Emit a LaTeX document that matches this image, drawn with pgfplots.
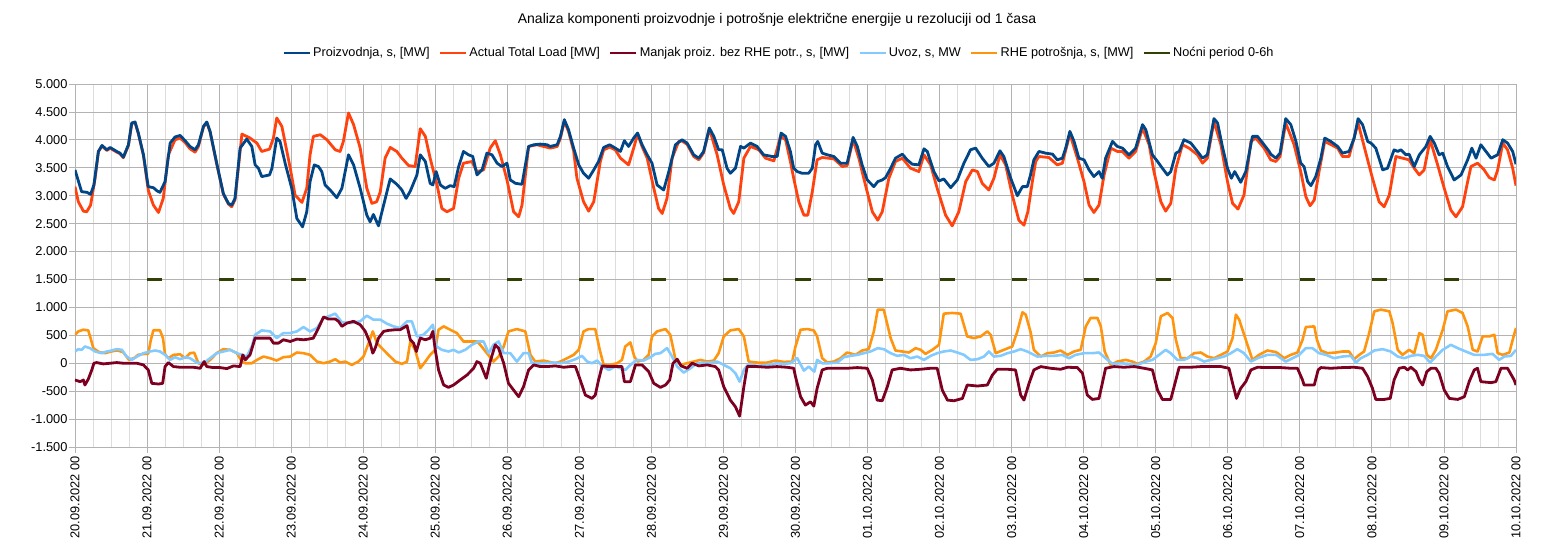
\documentclass[border=0pt]{standalone}
\usepackage{fontspec}
\setmainfont{Liberation Sans}
\usepackage{pgfplots}
\pgfplotsset{compat=1.18}
\definecolor{cprod}{HTML}{004586}
\definecolor{cload}{HTML}{FF420E}
\definecolor{cman}{HTML}{7E0021}
\definecolor{cuvoz}{HTML}{83CAFF}
\definecolor{crhe}{HTML}{FF950E}
\definecolor{cnoc}{HTML}{314004}
\definecolor{gmaj}{HTML}{B3B3B3}
\definecolor{gmin}{HTML}{DDDDDD}
\begin{document}
\begin{tikzpicture}
\useasboundingbox (-75pt,-105pt) rectangle (1479pt,447pt);
\begin{axis}[
  at={(0pt,0pt)}, anchor=south west,
  scale only axis, width=1441pt, height=363pt,
  xmin=0, xmax=480, ymin=-1500, ymax=5000,
  xtick={0,24,...,480},
  xticklabels={20.09.2022 00,21.09.2022 00,22.09.2022 00,23.09.2022 00,24.09.2022 00,25.09.2022 00,26.09.2022 00,27.09.2022 00,28.09.2022 00,29.09.2022 00,30.09.2022 00,01.10.2022 00,02.10.2022 00,03.10.2022 00,04.10.2022 00,05.10.2022 00,06.10.2022 00,07.10.2022 00,08.10.2022 00,09.10.2022 00,10.10.2022 00},
  minor x tick num=3,
  ytick={-1500,-1000,...,5000},
  yticklabels={-1.500,-1.000,-500,0,500,1.000,1.500,2.000,2.500,3.000,3.500,4.000,4.500,5.000},
  grid=both,
  major grid style={gmaj, line width=0.8pt},
  minor grid style={gmin, line width=0.8pt},
  axis line style={gmaj, line width=0.8pt},
  tick style={gmaj, line width=0.8pt},
  major tick length=6pt, minor tick length=0pt,
  tick align=outside, tick pos=left,
  tick label style={font=\fontsize{12.8}{15}\selectfont, black},
  yticklabel style={xshift=2pt},
  xticklabel style={rotate=90, anchor=east},
  legend columns=6,
  legend style={at={(0.4885,1.0854)}, anchor=center, draw=none, fill=none,
    font=\fontsize{12.7}{15}\selectfont, inner sep=0pt,
    /tikz/every even column/.append style={column sep=7pt}},
  legend image code/.code={\draw[#1] (0pt,0pt) -- (26pt,0pt);},
  every axis plot/.append style={mark=none, line join=round},
]
\addlegendimage{cprod, line width=2.8pt}\addlegendentry{Proizvodnja, s, [MW]}
\addlegendimage{cload, line width=2.8pt}\addlegendentry{Actual Total Load [MW]}
\addlegendimage{cman, line width=2.8pt}\addlegendentry{Manjak proiz. bez RHE potr., s, [MW]}
\addlegendimage{cuvoz, line width=2.8pt}\addlegendentry{Uvoz, s, MW}
\addlegendimage{crhe, line width=2.8pt}\addlegendentry{RHE potrošnja, s, [MW]}
\addlegendimage{cnoc, line width=2.8pt}\addlegendentry{Noćni period 0-6h}

% RHE potrosnja
\addplot[crhe, line width=2.6pt, forget plot] coordinates {
(0,510)(1.1,570)(2.8,600)(4.4,588)(5.2,450)(6.1,270)(8,200)(10,180)(12,210)(14,230)(16,200)(18,60)(20,100)(21,150)(22.8,165)(24.4,170)(25.2,400)(26.1,590)(28.3,590)(29.3,450)(30,160)(31.1,90)(32.8,150)(35,160)(36.7,90)(38.3,180)(39.7,190)(41.1,0)(42.8,-30)(45,60)(47.2,180)(49.4,252)(51.7,240)(53.9,180)(55.6,30)(56.7,0)(58.9,0)(60.6,60)(62.8,120)(65,90)(67.2,48)(69.4,108)(71.7,120)(73.9,192)(76.1,180)(78.3,150)(80.6,30)(82.8,0)(85,30)(86.7,72)(88.3,12)(90,30)(92.2,-30)(94.4,30)(96.1,120)(97.8,360)(99.2,570)(100.6,360)(102.2,270)(104.4,150)(106.7,30)(108.9,-12)(110.6,30)(111.7,390)(113.3,240)(115,-90)(116.7,30)(118.3,150)(120,240)(121.1,600)(122.8,660)(125,600)(127.2,540)(129.4,390)(131.7,390)(133.9,390)(135,330)(137.2,180)(139.4,30)(141.1,120)(142.8,300)(144.4,570)(147.2,612)(150,570)(151.7,150)(153.3,30)(156.1,48)(160,0)(161.7,30)(163.9,90)(166.1,150)(167.8,240)(169.4,570)(171.1,612)(173.3,612)(174.8,240)(176.1,-30)(178.3,-30)(180.6,0)(182.2,60)(183.3,300)(185,372)(186.3,120)(187.4,30)(189.4,60)(191.1,150)(192.2,480)(193.9,570)(196.7,612)(198.3,510)(200,72)(201.7,-30)(203.9,0)(206.1,30)(208.3,60)(210.6,30)(212.8,48)(214.4,180)(216.1,480)(218.3,588)(221.1,612)(222.8,480)(224.4,30)(227.2,12)(230.6,12)(233.3,48)(236.1,24)(238.9,30)(240,300)(241.7,600)(243.9,612)(246.1,588)(247.2,480)(248.9,90)(250.6,12)(252.8,30)(255,90)(257.2,192)(260,150)(262.2,228)(264.4,252)(266.1,570)(267.4,960)(269.4,960)(271.7,450)(273.3,228)(275.6,210)(277.8,192)(280,270)(281.7,240)(283.3,168)(285.6,240)(287.8,330)(289.4,888)(292.2,900)(295,888)(297.2,480)(299.4,450)(301.7,480)(303.9,570)(305,510)(306.7,180)(309.4,240)(312.2,300)(313.9,570)(315.6,912)(316.7,870)(318.3,560)(319.4,240)(321.7,120)(323.9,180)(326.1,192)(328.3,228)(330.6,150)(332.8,210)(335,240)(336.7,660)(338.3,810)(340.6,810)(341.7,660)(343,210)(345,-30)(347.2,30)(350,60)(352.2,30)(353.9,-12)(356.1,30)(358.3,120)(360,360)(361.7,840)(363.9,900)(365.6,810)(366.7,420)(368.3,90)(370.6,90)(372.8,180)(375,192)(377.2,120)(379.4,90)(381.7,150)(383.9,210)(385.6,450)(386.7,870)(387.8,780)(390,420)(392.2,60)(394.4,150)(397.2,228)(400,200)(400.6,180)(402.8,90)(405,150)(407.2,192)(408.9,420)(410,648)(412.8,660)(413.7,420)(415,228)(417.2,180)(420,192)(422.2,210)(424.4,210)(426.1,72)(427.8,150)(429.4,210)(431.1,540)(432.8,930)(435,960)(437.8,930)(438.9,720)(440.6,240)(442.2,150)(444.4,240)(446.1,180)(447.8,540)(448.9,510)(450.3,150)(451.7,90)(453.3,240)(455.6,600)(457.2,930)(460,960)(462.2,900)(463.9,660)(465.6,240)(467.2,210)(468.9,480)(471.1,480)(472.8,510)(473.9,180)(475.6,150)(477.8,192)(479.2,480)(480,630)
};
% Uvoz
\addplot[cuvoz, line width=2.6pt, forget plot] coordinates {
(0,210)(1.1,252)(2.2,240)(3.3,300)(5,270)(6.7,210)(8.9,180)(10.6,210)(12.2,228)(13.9,252)(15.6,240)(17.2,120)(18.9,60)(20.6,120)(22.8,180)(25,210)(26.7,228)(28.3,210)(30,150)(31.7,60)(33.3,108)(35,72)(36.7,108)(38.3,90)(40.6,12)(42.8,0)(45,90)(47.2,180)(49.4,210)(51.7,240)(53.9,180)(55.6,150)(57.2,120)(58.9,300)(60,510)(62.2,588)(65,570)(67.2,450)(69.4,540)(71.7,540)(73.9,570)(76.1,648)(78.3,570)(80.6,630)(82.8,810)(84.4,840)(86.7,888)(88.9,732)(91.7,720)(95,750)(97.2,852)(99.4,780)(101.7,780)(103.9,708)(106.1,660)(108.3,630)(110.6,750)(112.2,750)(113.9,480)(116.1,510)(117.8,600)(119.2,690)(120.4,300)(122.2,240)(124.4,210)(126.1,240)(127.8,192)(130,240)(132.2,330)(134.4,390)(136.1,390)(137.8,180)(139.4,330)(141.1,390)(142.8,180)(145,180)(147.2,30)(149.4,180)(151.1,180)(152.2,0)(155,0)(160,12)(161.7,0)(164.4,30)(166.7,72)(168.9,132)(170.6,30)(172.2,0)(173.9,48)(175.6,-48)(177.8,-120)(180,-60)(181.7,-90)(183.3,-120)(185,-30)(187.2,60)(189.4,48)(191.7,108)(193.3,168)(195,180)(197.2,270)(198.6,150)(200.6,-60)(202.8,-168)(205,-90)(207.2,0)(209.4,12)(211.7,12)(213.9,30)(216.1,-30)(218.3,-90)(220,-180)(221.4,-330)(222.8,-120)(224.4,-12)(227.2,-48)(230.6,-30)(233.9,0)(236.1,-12)(238.3,0)(240.6,90)(242.8,-132)(244.4,-60)(245.6,-120)(246.3,-150)(247.2,60)(248.9,0)(251.1,0)(253.9,12)(256.1,108)(258.3,132)(260.6,150)(262.8,180)(265,210)(267.4,270)(269.4,252)(271.7,180)(273.9,132)(276.1,150)(278.3,90)(280.6,120)(282.8,60)(285,132)(287.2,180)(289.4,210)(291.7,228)(293.9,192)(296.1,150)(298.3,60)(300.6,72)(302.8,120)(304.4,210)(306.1,120)(308.3,132)(310.6,180)(312.8,210)(315,252)(317.2,210)(318.3,180)(320.6,120)(323.3,132)(326.1,132)(328.9,150)(331.1,90)(333.3,150)(336.1,180)(338.9,180)(341.1,192)(343.3,90)(345.6,-12)(348.3,0)(351.1,-12)(353.9,-30)(356.7,30)(358.9,60)(361.1,150)(363.3,240)(365,180)(367.2,60)(369.4,60)(371.7,120)(373.9,90)(376.1,30)(378.3,60)(380.6,90)(382.8,120)(385,180)(387.2,252)(389.4,180)(391.7,30)(393.9,90)(397.2,150)(400,150)(400.6,132)(403.3,30)(405.6,90)(407.8,150)(410,270)(412.2,270)(414.4,180)(416.7,150)(419.4,90)(422.2,120)(425,132)(426.7,12)(428.3,90)(430.6,150)(432.8,228)(435.6,252)(438.3,210)(440.6,120)(442.8,90)(445,132)(447.2,150)(449.4,132)(451.4,12)(453.3,120)(455.6,240)(458.3,330)(460.6,270)(463.3,210)(466.1,150)(469.4,150)(472.2,168)(474.4,60)(476.1,120)(478.3,132)(480,240)
};
% Manjak
\addplot[cman, line width=2.8pt, forget plot] coordinates {
(0,-300)(1.7,-330)(2.8,-300)(3.3,-390)(4.4,-288)(5.6,-120)(6.3,0)(7.2,12)(9.4,-12)(11.7,0)(13.9,12)(16.1,0)(18.3,0)(20.6,0)(22.8,-30)(24.4,-120)(25.6,-360)(27.8,-372)(29.2,-360)(30,-60)(31.1,12)(32.8,-60)(35,-72)(37.2,-72)(39.4,-72)(41.7,-90)(43,30)(43.9,-60)(46.1,-78)(48.3,-78)(50.6,-96)(52.8,-48)(55,-60)(55.9,150)(56.7,60)(58.3,150)(60,450)(62.2,450)(65,450)(66.1,360)(67.8,360)(69.4,420)(71.7,390)(73.9,432)(76.1,420)(77.8,432)(79.4,450)(81.1,630)(82.8,828)(84.4,792)(86.7,792)(87.8,750)(88.9,660)(90.6,720)(92.8,750)(95,690)(96.7,570)(98.3,360)(99.2,180)(100,270)(101.1,450)(102.8,570)(104.4,588)(106.7,600)(108.3,600)(110.6,672)(111.7,420)(112.8,360)(113.7,210)(115,450)(116.7,420)(118.3,450)(119.2,570)(120,240)(121.1,-120)(122.8,-390)(124.4,-432)(126.1,-390)(128.3,-300)(130.6,-210)(132.8,-90)(133.9,30)(135,0)(137,-270)(138.3,30)(140,330)(141.1,270)(142.8,0)(144.4,-360)(146.1,-480)(147.8,-600)(149.4,-420)(151.1,-120)(152.8,-30)(155,-60)(157.2,-60)(160,-48)(162.8,-72)(165,-60)(166.7,-60)(168.3,-300)(170,-570)(172.2,-630)(173.3,-570)(174.4,-300)(175.6,-48)(177.8,-60)(180.6,-60)(182.2,-60)(183,-330)(185,-330)(186.7,-30)(188.9,-30)(191.1,-150)(192.8,-360)(195,-432)(196.7,-390)(198.1,-300)(199.2,0)(200.6,72)(201.9,-48)(203.9,-90)(205.6,0)(207.8,-48)(210.6,-30)(213.3,-60)(214.4,-120)(216.1,-420)(218.3,-660)(220,-780)(221.4,-948)(222.8,-420)(223.9,-60)(227.2,-60)(230.6,-72)(233.9,-60)(237.2,-72)(239.4,-90)(240,-240)(241.7,-600)(243.3,-750)(245,-690)(246.1,-768)(247.2,-450)(248.9,-120)(250.6,-90)(253.9,-90)(257.2,-90)(260.6,-78)(263.9,-90)(265.6,-300)(267.2,-660)(268.9,-672)(270.6,-420)(272.2,-120)(275,-90)(278.3,-120)(281.7,-108)(285,-90)(287.2,-90)(288.9,-480)(290.6,-660)(292.8,-672)(295.6,-630)(297.2,-390)(300.6,-408)(303.9,-390)(305.6,-210)(307.2,-108)(310.6,-108)(313.3,-120)(315,-570)(316.1,-660)(317.8,-360)(319.4,-120)(321.7,-60)(325,-90)(328.3,-108)(330.6,-72)(333.9,-78)(335.6,-180)(337.2,-570)(338.9,-648)(341.1,-630)(342.2,-360)(343.3,-90)(346.1,-60)(349.4,-72)(352.8,-60)(356.1,-90)(358.9,-120)(360.6,-480)(362.2,-648)(365,-648)(366.7,-300)(367.8,-72)(371.7,-72)(375,-60)(378.3,-60)(381.7,-60)(384.4,-90)(385.6,-360)(386.9,-630)(388.3,-450)(390,-330)(391.7,-120)(393.9,-72)(397.2,-78)(401.7,-78)(405,-90)(407.2,-90)(408.9,-300)(409.4,-390)(412.8,-390)(414.1,-120)(415,-78)(418.3,-90)(422.2,-78)(426.1,-72)(428.9,-90)(430.6,-240)(432.2,-450)(433.3,-648)(436.1,-648)(438.1,-630)(439.4,-300)(441.1,-90)(442.8,-72)(443.9,-120)(445,-72)(446.7,-150)(447.8,-300)(448.9,-390)(450.3,-150)(451.7,-90)(453.3,-90)(454.4,-180)(456.1,-480)(457.8,-630)(460.6,-648)(462.8,-600)(464.4,-330)(466.1,-120)(467.2,-90)(468.3,-330)(471.7,-348)(473.3,-330)(475,-90)(477.2,-90)(479.4,-300)(480,-390)
};
% Nocni period
\addplot[cnoc, line width=3pt, forget plot, unbounded coords=jump] coordinates {
(24,1500)(29,1500)(30,nan)(48,1500)(53,1500)(54,nan)(72,1500)(77,1500)(78,nan)(96,1500)(101,1500)(102,nan)(120,1500)(125,1500)(126,nan)(144,1500)(149,1500)(150,nan)(168,1500)(173,1500)(174,nan)(192,1500)(197,1500)(198,nan)(216,1500)(221,1500)(222,nan)(240,1500)(245,1500)(246,nan)(264,1500)(269,1500)(270,nan)(288,1500)(293,1500)(294,nan)(312,1500)(317,1500)(318,nan)(336,1500)(341,1500)(342,nan)(360,1500)(365,1500)(366,nan)(384,1500)(389,1500)(390,nan)(408,1500)(413,1500)(414,nan)(432,1500)(437,1500)(438,nan)(456,1500)(461,1500)
};
% Actual Total Load
\addplot[cload, line width=2.8pt, forget plot] coordinates {
(0,3162)(1.1,2892)(2.8,2724)(3.9,2712)(5.2,2832)(6.7,3312)(7.8,3792)(9,3890)(10.6,3810)(11.7,3850)(13.9,3780)(15,3750)(16.1,3680)(17.8,3900)(18.9,4290)(20,4310)(21.1,4110)(22.8,3720)(24.4,3100)(26.1,2832)(27.8,2700)(29.4,2952)(31.1,3732)(33.3,4000)(35,4032)(36.7,3950)(38.3,3840)(40,3780)(41.1,3880)(42.8,4230)(43.9,4310)(45,4140)(47.2,3570)(49.4,3030)(51.1,2850)(52.2,2802)(53.3,2930)(55.6,4104)(58.3,4032)(60.6,3942)(62.2,3792)(64.8,3834)(66.1,4032)(67.2,4392)(68.9,4242)(71.7,3492)(73.3,3012)(75.6,2880)(77.2,3132)(78.3,3732)(79.4,4062)(81.7,4092)(83.9,4002)(86.7,3822)(88.3,3792)(89.4,3972)(91.1,4482)(92.8,4272)(95,3852)(97.2,3132)(98.9,2862)(100.5,2892)(101.7,3072)(103.3,3672)(105,3864)(107.2,3792)(108.9,3672)(111.1,3540)(113.3,3522)(115,4200)(116.7,4062)(118.3,3672)(120.6,3192)(122.2,2772)(123.9,2712)(126.1,2772)(127.8,3312)(129.4,3582)(132.2,3612)(133.9,3432)(136.1,3462)(138.3,3852)(140,3984)(141.7,3732)(143.9,3282)(146.1,2712)(147.8,2622)(148.9,2832)(151.1,3882)(153.9,3912)(156.1,3882)(158.3,3852)(160.6,3880)(161.7,4030)(163,4330)(164.4,4150)(166.1,3800)(167.2,3312)(169.4,2892)(171.1,2724)(172.8,2892)(175,3612)(176.1,3820)(178.1,3870)(180,3820)(181.7,3672)(184.4,3552)(186.1,3852)(187.4,4104)(188.9,3880)(190.6,3672)(192.8,3132)(194.4,2772)(195.6,2682)(197.2,2952)(198.9,3672)(201.1,3972)(202.2,3980)(203.9,3920)(206.1,3702)(207.8,3642)(209.4,3770)(211.3,4200)(213.9,3732)(216.1,3192)(218.3,2772)(219.4,2682)(221.1,2892)(222.8,3672)(225,3882)(227.8,3822)(230,3672)(232.8,3624)(235,4062)(236.7,4002)(238.3,3612)(239.4,3312)(241.1,2892)(242.8,2652)(244.1,2652)(245.6,3072)(247.2,3642)(248.9,3684)(252.8,3660)(255.6,3522)(257.2,3540)(259.2,4002)(261.1,3672)(263.3,3192)(265.6,2712)(267.4,2562)(268.9,2712)(271.1,3312)(273.3,3612)(275.6,3672)(278.3,3492)(281.1,3432)(282.8,3732)(285,3552)(287.2,3132)(290,2652)(292.2,2460)(294.4,2712)(296.7,3252)(298.9,3462)(300.6,3432)(302.2,3222)(304.4,3102)(306.1,3312)(308.1,3732)(310,3552)(312.2,3012)(314.4,2562)(316.1,2472)(317.4,2712)(318.9,3252)(320,3612)(321.1,3702)(324.4,3684)(327.2,3552)(328.9,3582)(331.4,4104)(333.9,3672)(336.1,3252)(337.8,2832)(339.4,2700)(341.1,2832)(342.8,3372)(345,3852)(347.2,3792)(348.9,3792)(351.1,3672)(353.3,3792)(355.6,4212)(357.8,3912)(359.4,3432)(361.7,2892)(363.3,2724)(365,2862)(366.7,3492)(368.9,3912)(371.1,3852)(373.9,3732)(375.6,3582)(377.2,3672)(379.4,4332)(381.7,3912)(383.9,3252)(385.6,2862)(387.4,2760)(389.4,3012)(391.7,3972)(393.3,4032)(396.1,3852)(398.3,3642)(400,3612)(401.4,3702)(403.3,4302)(406.1,3912)(408.3,3432)(410,2982)(411.4,2820)(412.8,2922)(414.4,3432)(416.3,3972)(420.6,3852)(422.2,3702)(424.4,3702)(427.4,4302)(430,3762)(432.2,3312)(434.4,2892)(436.1,2802)(437.8,3012)(440,3702)(442.2,3672)(444.4,3642)(446.1,3492)(447.8,3372)(449.4,3462)(451.4,4002)(453.9,3552)(456.1,3132)(458.3,2742)(460,2622)(462.2,2802)(463.9,3252)(465,3522)(467.2,3582)(469.4,3462)(471.1,3324)(472.8,3282)(473.9,3462)(475.6,3942)(477.2,3822)(478.9,3492)(480,3180)
};
% Proizvodnja
\addplot[cprod, line width=2.8pt, forget plot] coordinates {
(0,3462)(2.2,3072)(4,3060)(5.2,3024)(6.3,3192)(7.8,3792)(9,3900)(10.6,3822)(11.7,3864)(13.9,3792)(15,3762)(16.1,3690)(17.8,3912)(18.9,4302)(20,4320)(21.1,4122)(22.8,3732)(24.4,3162)(26.1,3144)(27.4,3084)(28.3,3060)(30,3252)(31.7,3942)(33.3,4050)(35,4080)(36.7,3984)(38.3,3882)(40,3822)(41.1,3912)(42.8,4242)(43.9,4320)(45,4152)(47.2,3582)(49.4,3042)(51.1,2862)(52.2,2832)(53.3,2952)(55,3852)(57.2,4014)(58.9,3882)(60,3552)(61.1,3492)(62.2,3342)(64.8,3372)(65.6,3492)(67.2,4032)(68.3,3972)(70,3582)(72.2,3132)(73.9,2592)(75.8,2442)(77.2,2712)(78.3,3252)(79.7,3552)(81.1,3522)(82.2,3432)(83.3,3192)(85,3102)(87.2,2964)(88.9,3132)(91.1,3732)(92.8,3552)(95,3132)(97.2,2652)(98.3,2532)(99.4,2664)(101.1,2460)(102.8,2832)(105,3300)(107.2,3204)(108.9,3102)(110.3,2952)(111.7,3084)(113.9,3372)(115,3732)(116.7,3612)(118.3,3222)(119.2,3192)(120.3,3432)(121.7,3192)(123.3,3132)(125,3180)(126.3,3162)(127.8,3522)(129.4,3792)(131.1,3732)(132.5,3702)(133.9,3372)(135.6,3462)(137.2,3762)(138.9,3732)(140.6,3582)(142.2,3522)(143.9,3582)(145,3282)(146.7,3222)(148.9,3204)(151.1,3882)(152.8,3912)(155,3924)(157.2,3912)(158.3,3882)(160.6,3912)(161.7,4062)(163,4362)(164.4,4182)(166.1,3852)(167.8,3552)(169.4,3402)(171.1,3312)(172.8,3462)(174.4,3612)(176.1,3864)(178.1,3912)(180,3852)(181.7,3792)(183,3984)(184.4,3882)(186.1,4032)(187.4,4122)(188.9,3912)(190.6,3732)(192.2,3582)(193.9,3192)(196.1,3102)(197.8,3432)(200,3912)(202.2,4002)(203.9,3942)(206.1,3732)(207.8,3672)(209.4,3792)(211.3,4212)(212.8,4062)(214.4,3822)(215.6,3822)(217.2,3492)(218.3,3402)(220,3492)(221.7,3882)(222.8,3852)(225,3942)(227.2,3882)(229.4,3732)(232.2,3702)(233.9,3702)(235.2,4122)(236.7,4062)(238.3,3792)(239.4,3492)(240.6,3432)(242.2,3402)(244.4,3402)(245.6,3492)(246.7,3912)(247.4,3972)(248.9,3762)(250.6,3732)(252.8,3702)(255,3582)(257.2,3582)(259.2,4044)(260.6,3882)(262.2,3552)(263.9,3282)(266.1,3162)(267.4,3252)(268.9,3282)(270,3324)(271.7,3492)(273.3,3672)(275.6,3744)(277.2,3642)(278.9,3564)(281.1,3552)(282.8,3840)(283.9,3792)(286.1,3432)(287.8,3264)(289.4,3300)(291.7,3144)(293.9,3282)(296.1,3582)(298.3,3822)(300,3852)(302.2,3672)(304.4,3522)(306.1,3582)(308.1,3804)(309.4,3702)(311.7,3312)(313.9,3000)(315.6,3162)(317.2,3162)(318.3,3372)(319.4,3642)(321.1,3792)(323.3,3762)(325.6,3744)(327.2,3642)(328.9,3672)(330,3852)(331.4,4152)(332.8,3972)(334.4,3672)(336.1,3642)(337.8,3462)(339.4,3342)(341.1,3432)(342.2,3312)(343.3,3672)(345.6,3972)(347.2,3882)(348.9,3852)(351.1,3732)(353.3,3852)(355.6,4272)(356.7,4182)(358.9,3732)(360.6,3612)(362.2,3492)(363.9,3372)(365,3432)(366.7,3762)(367.8,3792)(369.4,4002)(371.7,3942)(373.9,3792)(375.6,3672)(377.2,3732)(379.4,4380)(380.6,4302)(382.2,3882)(383.9,3492)(385.2,3312)(386.3,3432)(388.3,3240)(390,3432)(392.2,4062)(393.9,4062)(396.1,3912)(397.8,3792)(398.3,3744)(400,3672)(401.4,3762)(403.3,4380)(405,4272)(406.7,3972)(408.3,3582)(409.4,3522)(410.6,3252)(411.7,3180)(413.3,3342)(415,3672)(416.3,4032)(418.3,3972)(420.6,3882)(422.2,3762)(424.4,3792)(426.1,4032)(427.4,4380)(428.9,4272)(430.6,3972)(431.7,3942)(433.3,3852)(435.6,3462)(437.2,3492)(439.4,3822)(440.6,3792)(441.7,3822)(443.3,3732)(444.4,3744)(446.1,3522)(447.8,3732)(450,3882)(451.4,4062)(452.8,3942)(454.4,3732)(455.6,3762)(457.2,3522)(459.4,3282)(461.7,3372)(463.9,3642)(465.3,3852)(466.7,3672)(468.3,3912)(470,3792)(471.7,3672)(473.9,3732)(475.6,4002)(477.2,3942)(478.9,3792)(480,3564)
};
\end{axis}
\node[font=\fontsize{14}{16}\selectfont] at (702pt,427pt) {Analiza komponenti proizvodnje i potrošnje električne energije u rezoluciji od 1 časa};
\end{tikzpicture}
\end{document}
